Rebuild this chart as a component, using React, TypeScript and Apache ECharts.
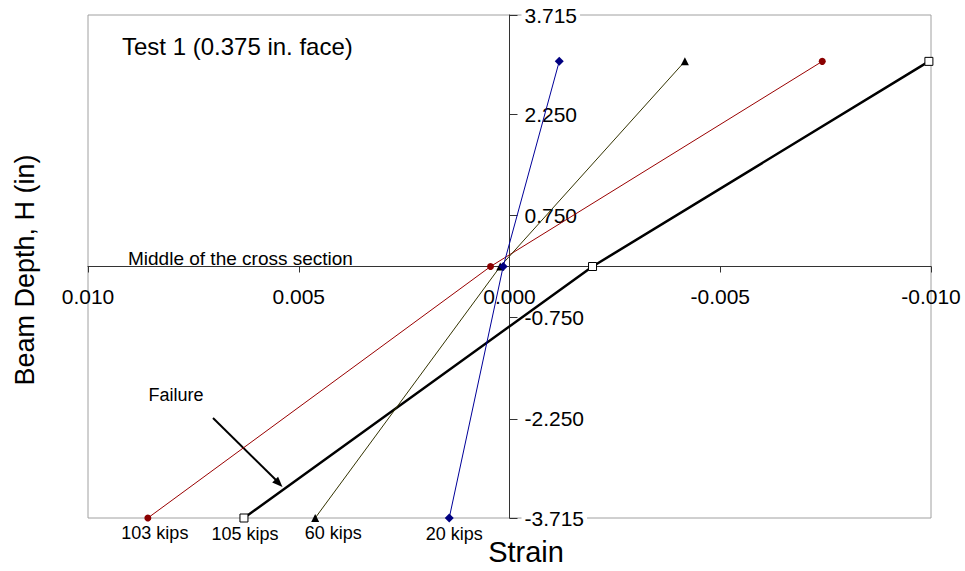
import React, { useEffect, useRef } from "react";
import * as echarts from "echarts";

// Depth positions of the gauges (in)
const depths = [3.03, 0, -3.715];
// Strain readings at each depth, per load level
const strain20 = [-0.00118, 0.00015, 0.00143];
const strain60 = [-0.00416, 0.00022, 0.00461];
const strain103 = [-0.00742, 0.00045, 0.00858];
const strain105 = [-0.00995, -0.00197, 0.0063];
const loadLabels = ["20 kips", "60 kips", "103 kips", "105 kips"];
const yTicks = [-3.715, -2.25, -0.75, 0.75, 2.25, 3.715];

const FONT = "Liberation Sans, Arial, sans-serif";
const W = 965;
const H = 571;
const G = { left: 88, right: 34, top: 15, bottom: 53 };

function pairs(strains: number[], label: string, offX: number) {
  return strains.map((s, i) => {
    if (i === depths.length - 1) {
      return {
        value: [s, depths[i]],
        label: {
          show: true,
          formatter: label,
          position: "bottom",
          distance: 2,
          offset: [offX, 0],
          fontFamily: FONT,
          fontSize: 18,
          color: "#000",
        },
      };
    }
    return { value: [s, depths[i]] };
  });
}

export default function App() {
  const ref = useRef<HTMLDivElement>(null);
  useEffect(() => {
    if (!ref.current) return;
    const chart = echarts.init(ref.current, null, { renderer: "svg" });
    const gw = W - G.left - G.right;
    const gh = H - G.top - G.bottom;
    // shift axes from the grid edges to the zero lines (middle of the ranges)
    const yOffset = -gw / 2;
    const xOffset = -gh / 2;
    const option: any = {
      animation: false,
      backgroundColor: "#fff",
      grid: {
        left: G.left,
        right: G.right,
        top: G.top,
        bottom: G.bottom,
        containLabel: false,
        outerBoundsMode: "none",
        show: true,
        borderColor: "#a0a0a0",
        borderWidth: 1,
        backgroundColor: "transparent",
      },
      xAxis: {
        type: "value",
        inverse: true,
        min: -0.01,
        max: 0.01,
        interval: 0.005,
        position: "bottom",
        offset: xOffset,
        axisLine: { onZero: false, lineStyle: { color: "#333", width: 1 } },
        axisTick: { show: true, length: 6, lineStyle: { color: "#333" } },
        splitLine: { show: false },
        axisLabel: {
          margin: 19,
          fontFamily: FONT,
          fontSize: 21,
          color: "#000",
          formatter: (v: number) => v.toFixed(3),
        },
      },
      yAxis: {
        type: "value",
        min: -3.715,
        max: 3.715,
        position: "right",
        offset: yOffset,
        z: 1,
        axisLine: { onZero: false, lineStyle: { color: "#333", width: 1 } },
        axisTick: {
          show: true,
          length: 8,
          customValues: yTicks,
          lineStyle: { color: "#333" },
        },
        splitLine: { show: false },
        axisLabel: {
          margin: 12,
          customValues: yTicks,
          fontFamily: FONT,
          fontSize: 21,
          color: "#000",
          backgroundColor: "#fff",
          padding: [0, 3],
          formatter: (v: number) => v.toFixed(3),
        },
      },
      series: [
        {
          type: "line",
          name: loadLabels[3],
          data: pairs(strain105, loadLabels[3], 1),
          symbol: "rect",
          symbolSize: 8,
          lineStyle: { color: "#000", width: 2.5 },
          itemStyle: { color: "#fff", borderColor: "#000", borderWidth: 1 },
          z: 2,
        },
        {
          type: "line",
          name: loadLabels[2],
          data: pairs(strain103, loadLabels[2], 7),
          symbol: "circle",
          symbolSize: 7,
          lineStyle: { color: "#990000", width: 1 },
          itemStyle: { color: "#8b0000" },
          z: 3,
        },
        {
          type: "line",
          name: loadLabels[1],
          data: pairs(strain60, loadLabels[1], 18),
          symbol: "triangle",
          symbolSize: 8,
          lineStyle: { color: "#333300", width: 1 },
          itemStyle: { color: "#000" },
          z: 4,
        },
        {
          type: "line",
          name: loadLabels[0],
          data: pairs(strain20, loadLabels[0], 5),
          symbol: "diamond",
          symbolSize: 9,
          lineStyle: { color: "#000099", width: 1 },
          itemStyle: { color: "#000080" },
          z: 5,
        },
      ],
      graphic: [
        {
          type: "text",
          left: 122,
          top: 34,
          style: {
            text: "Test 1 (0.375 in. face)",
            fontFamily: FONT,
            fontSize: 24,
            fill: "#000",
          },
        },
        {
          type: "text",
          x: 128,
          y: 258,
          style: {
            text: "Middle of the cross section",
            fontFamily: FONT,
            fontSize: 19,
            fill: "#000",
            textAlign: "left",
            textVerticalAlign: "middle",
          },
        },
        {
          type: "text",
          x: 176,
          y: 395,
          style: {
            text: "Failure",
            fontFamily: FONT,
            fontSize: 18,
            fill: "#000",
            textAlign: "center",
            textVerticalAlign: "middle",
          },
        },
        {
          type: "line",
          shape: { x1: 213, y1: 418, x2: 277, y2: 481 },
          style: { stroke: "#000", lineWidth: 2 },
        },
        {
          type: "polygon",
          shape: {
            points: [
              [282.5, 487],
              [272.2, 482.6],
              [278.1, 476.7],
            ],
          },
          style: { fill: "#000" },
        },
        {
          type: "text",
          x: 25,
          y: 270,
          rotation: Math.PI / 2,
          style: {
            text: "Beam Depth, H (in)",
            fontFamily: FONT,
            fontSize: 27,
            fill: "#000",
            textAlign: "center",
            textVerticalAlign: "middle",
          },
        },
        {
          type: "text",
          x: 526,
          y: 552,
          style: {
            text: "Strain",
            fontFamily: FONT,
            fontSize: 29,
            fill: "#000",
            textAlign: "center",
            textVerticalAlign: "middle",
          },
        },
      ],
    };
    chart.setOption(option);
    return () => chart.dispose();
  }, []);
  return (
    <div
      ref={ref}
      style={{ position: "fixed", left: 0, top: 0, width: W, height: H }}
    />
  );
}
